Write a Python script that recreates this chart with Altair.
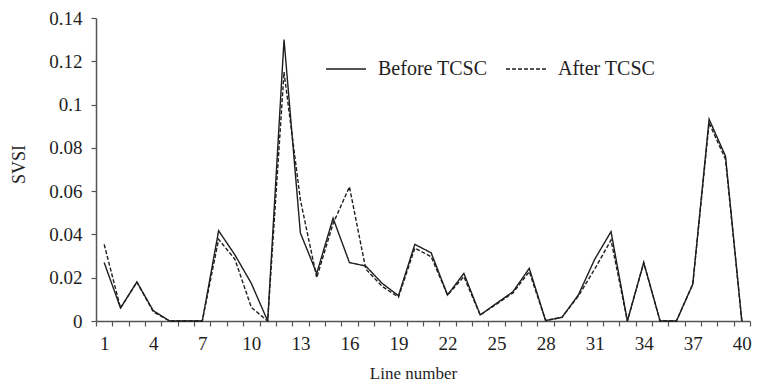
import altair as alt
import pandas as pd

# ---- data ----
lines = list(range(1, 41))
before = [0.027, 0.006, 0.018, 0.0048, 0, 0, 0, 0.0417, 0.0305, 0.0174,
          0, 0.130, 0.0407, 0.022, 0.0475, 0.027, 0.0254, 0.0174, 0.0117, 0.0354,
          0.0315, 0.012, 0.022, 0.0028, 0.0082, 0.0135, 0.0243, 0.0002, 0.0017, 0.012,
          0.0285, 0.0413, 0, 0.027, 0, 0, 0.017, 0.0932, 0.0762, 0]
after = [0.0354, 0.006, 0.018, 0.0043, 0, 0, 0, 0.0377, 0.0285, 0.0063,
         0, 0.115, 0.056, 0.020, 0.045, 0.062, 0.024, 0.016, 0.011, 0.0337,
         0.0297, 0.012, 0.0205, 0.0028, 0.0078, 0.013, 0.0228, 0.0002, 0.0017, 0.0115,
         0.024, 0.0374, 0, 0.027, 0, 0, 0.017, 0.0915, 0.0748, 0]
series_names = ["Before TCSC", "After TCSC"]
x_tick_values = [i + 0.5 for i in range(0, 41)]   # category boundaries
y_tick_values = [0, 0.02, 0.04, 0.06, 0.08, 0.1, 0.12, 0.14]

df = pd.DataFrame({
    "line": lines + lines,
    "svsi": before + after,
    "series": [series_names[0]] * len(lines) + [series_names[1]] * len(lines),
})

FONT = "Liberation Serif"
AX = "#555555"
INK = "#1e1e1e"

chart = alt.Chart(df).mark_line(color=INK, strokeWidth=1.4).encode(
    x=alt.X(
        "line:Q",
        scale=alt.Scale(domain=[0.5, 40.5], nice=False, zero=False),
        axis=alt.Axis(
            title="Line number", values=x_tick_values,
            labelExpr="(datum.value - 0.5) % 3 == 0 ? toString(datum.value + 0.5) : ''",
            labelOffset=8.2, labelFlush=False, labelOverlap=False,
            tickSize=5, labelPadding=8, titlePadding=12, grid=False,
            titleX=317, titleAnchor="middle", titleFontSize=17,
        ),
    ),
    y=alt.Y(
        "svsi:Q",
        scale=alt.Scale(domain=[0, 0.14], nice=False),
        axis=alt.Axis(
            title="SVSI", values=y_tick_values, format="~g",
            tickSize=5, labelPadding=9, titlePadding=20, grid=False,
            titleY=146, titleFontSize=18,
        ),
    ),
    strokeDash=alt.StrokeDash(
        "series:N", sort=series_names,
        scale=alt.Scale(domain=series_names, range=[[1, 0], [4, 2]]),
        legend=alt.Legend(
            title=None, orient="none", direction="horizontal",
            legendX=229, legendY=30,
            symbolType="stroke", symbolSize=1600, symbolStrokeWidth=1.3,
            symbolStrokeColor=INK, labelOffset=11, columnPadding=15,
            labelFont=FONT, labelFontSize=20, labelColor=INK, padding=0,
        ),
    ),
).properties(
    width=654, height=303,
    autosize="none",
    padding={"left": 88, "top": 10, "right": 2, "bottom": 60},
).configure_view(stroke=None).configure_axis(
    domainColor=AX, domainWidth=1.5, tickColor=AX, tickWidth=1.2,
    labelFont=FONT, labelFontSize=19, labelColor=INK,
    titleFont=FONT, titleFontWeight="normal", titleColor=INK,
)

chart.save("out.html", embed_options={"renderer": "svg", "actions": False})
